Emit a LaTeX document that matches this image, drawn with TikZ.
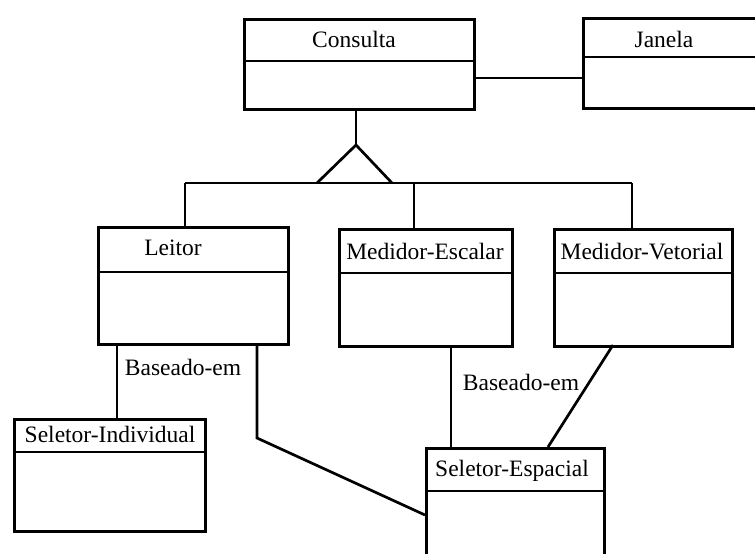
\documentclass[tikz,border=0pt]{standalone}
\usepackage{fontspec}
\setmainfont{Liberation Serif}
\begin{document}
\begin{tikzpicture}[x=1pt,y=-1pt,
  box/.style={draw, line width=2.7pt, inner sep=0pt, anchor=north west},
  div/.style={line width=2.7pt},
  conn/.style={line width=2.7pt},
  title/.style={inner sep=0pt, text height=15.5pt, text depth=0pt, font=\fontsize{23.5}{26}\selectfont},
  lab/.style={inner sep=0pt, text height=15.5pt, text depth=0pt, font=\fontsize{23.5}{26}\selectfont}]
\useasboundingbox (0,0) rectangle (755,554);
\clip (0,0) rectangle (755,554);
% class boxes
\node[box, minimum width=230pt, minimum height=90pt] (consulta) at (243,18) {};
\node[box, minimum width=200pt, minimum height=90pt] (janela) at (582,17) {};
\node[box, minimum width=190pt, minimum height=117pt] (leitor) at (97,226) {};
\node[box, minimum width=173pt, minimum height=117pt] (escalar) at (338,228) {};
\node[box, minimum width=178pt, minimum height=117pt] (vetorial) at (553,228) {};
\node[box, minimum width=191pt, minimum height=112pt] (individual) at (13,418) {};
\node[box, minimum width=178pt, minimum height=150pt] (espacial) at (425,447) {};
% titles
\node[title] (consultaT) at (354,40) {Consulta};
\node[title] (janelaT) at (664,40) {Janela};
\node[title] (leitorT) at (173,248) {Leitor};
\node[title] (escalarT) at (425,252) {Medidor-Escalar};
\node[title] (vetorialT) at (642,252) {Medidor-Vetorial};
\node[title] (individualT) at (110,435) {Seletor-Individual};
\node[title] (espacialT) at (512,469) {Seletor-Espacial};
% dividers
\draw[div] (consulta.west |- 0,61) -- (consulta.east |- 0,61);
\draw[div] (janela.west |- 0,57) -- (janela.east |- 0,57);
\draw[div] (leitor.west |- 0,272) -- (leitor.east |- 0,272);
\draw[div] (escalar.west |- 0,273) -- (escalar.east |- 0,273);
\draw[div] (vetorial.west |- 0,273) -- (vetorial.east |- 0,273);
\draw[div] (individual.west |- 0,452) -- (individual.east |- 0,452);
\draw[div] (espacial.west |- 0,491) -- (espacial.east |- 0,491);
% association Consulta - Janela
\draw[conn] (consulta.east |- 0,78) -- (janela.west |- 0,78);
% generalization
\coordinate (apex) at (356,145);
\coordinate (tl) at (317,183);
\coordinate (tr) at (392,183);
\coordinate (jL) at (185,183);
\coordinate (jE) at (414,183);
\coordinate (jV) at (632,183);
\draw[conn] (356,0 |- consulta.south) -- (apex);
\draw[conn, line join=miter] (tl) -- (apex) -- (tr);
\draw[conn] (jL) -- (jV);
\draw[conn] (jL) -- (jL |- leitor.north);
\draw[conn] (jE) -- (jE |- escalar.north);
\draw[conn] (jV) -- (jV |- vetorial.north);
% associations
\coordinate (lb1) at (117,343);
\draw[conn] (lb1) -- (lb1 |- individual.north);
\node[lab] (lab1) at (183,368) {Baseado-em};
\coordinate (lb2) at (257,343);
\coordinate (bend) at (257,438);
\coordinate (seL) at (425,515);
\draw[conn] (lb2) -- (bend) -- (seL);
\coordinate (eb) at (451,345);
\draw[conn] (eb) -- (eb |- espacial.north);
\node[lab] (lab2) at (521,383) {Baseado-em};
\coordinate (vb) at (613,345);
\coordinate (st) at (548,447);
\draw[conn] (vb) -- (st);
\end{tikzpicture}
\end{document}
